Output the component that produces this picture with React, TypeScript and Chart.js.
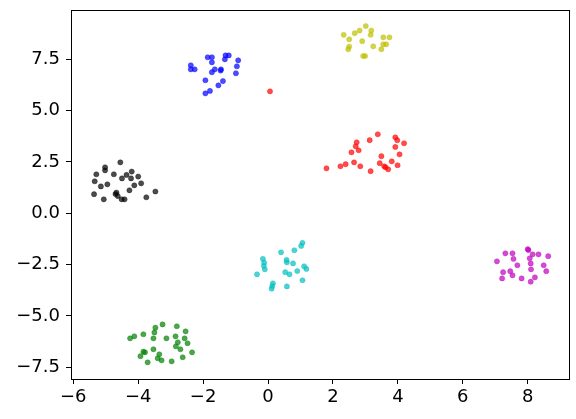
import React, { useEffect, useRef } from "react";
import { Chart, registerables } from "chart.js";
Chart.register(...registerables);

const blueX = [-2.38, -2.38, -2.26, -1.86, -1.73, -1.73, -1.31, -1.21, -1.33, -1.45, -1.46, -1.64, -1.73, -1.93, -1.39, -1.53, -1.79, -1.93, -0.99, -0.96, -0.92];
const blueY = [7.21, 7.01, 7.01, 7.6, 7.6, 7.35, 7.69, 7.69, 7.5, 7.01, 6.95, 7.01, 6.87, 6.48, 6.44, 6.23, 5.96, 5.84, 6.82, 7.16, 7.45];

const yellowX = [2.33, 2.5, 2.67, 2.82, 3.01, 3.18, 3.16, 2.9, 2.5, 2.47, 3.55, 3.74, 3.64, 3.55, 3.24, 3.49, 2.93, 2.99];
const yellowY = [8.69, 8.47, 8.77, 8.9, 9.12, 8.9, 8.69, 8.38, 8.12, 7.99, 8.57, 8.57, 8.23, 8.23, 8.13, 7.99, 7.66, 7.66];

const redX = [0.06, 1.8, 2.23, 2.39, 2.65, 2.84, 3.16, 2.57, 2.7, 2.73, 2.79, 3.13, 3.38, 3.49, 3.44, 3.58, 3.62, 3.7, 3.81, 3.99, 3.92, 3.98, 4.19, 4.05, 3.92];
const redY = [5.94, 2.19, 2.29, 2.39, 2.48, 2.29, 2.05, 2.97, 3.26, 3.46, 3.07, 3.56, 3.85, 2.78, 2.44, 2.29, 2.24, 2.14, 2.53, 2.34, 3.7, 3.56, 3.41, 2.87, 3.23];

const blackX = [-5.29, -5.34, -5.36, -5.15, -5.02, -5.02, -4.95, -4.75, -5.06, -4.7, -4.63, -4.67, -4.55, -4.5, -4.36, -4.2, -4.22, -4.27, -4.12, -4.0, -3.91, -4.51, -4.42, -3.75, -3.47];
const blackY = [1.9, 1.56, 0.93, 1.31, 2.24, 2.09, 1.41, 1.9, 0.68, 0.94, 0.84, 1.01, 2.48, 1.7, 1.87, 2.03, 1.7, 1.12, 1.36, 1.79, 1.46, 0.68, 0.68, 0.78, 1.06];

const cyanX = [-0.34, -0.16, -0.12, -0.13, -0.1, 0.4, 0.57, 0.58, 0.77, 0.81, 1.02, 1.06, 0.53, 0.66, 0.9, 1.11, 1.18, 1.06, 0.15, 0.13, 0.11, 0.58];
const cyanY = [-2.97, -2.22, -2.4, -2.56, -2.73, -1.9, -2.27, -2.39, -2.44, -1.8, -1.59, -1.44, -2.87, -2.97, -2.81, -2.58, -2.71, -3.26, -3.41, -3.54, -3.67, -3.56];

const magentaX = [7.05, 7.31, 7.53, 7.56, 7.24, 7.21, 7.53, 7.46, 7.68, 7.81, 8.0, 8.02, 8.15, 8.06, 8.09, 8.1, 8.33, 8.63, 8.49, 8.57, 8.22, 8.09];
const magentaY = [-2.34, -1.95, -1.95, -2.22, -2.87, -3.17, -3.02, -2.82, -2.53, -3.17, -1.75, -1.79, -2.0, -2.19, -2.44, -2.73, -2.0, -2.09, -2.53, -2.82, -3.12, -3.33];

const greenX = [-4.25, -4.12, -3.84, -3.5, -3.47, -3.25, -2.81, -2.54, -3.53, -3.13, -2.85, -2.57, -2.78, -2.48, -2.84, -2.7, -2.34, -3.53, -3.79, -3.84, -3.93, -3.35, -3.4, -3.28, -2.97, -2.63, -3.71];
const greenY = [-6.09, -5.99, -5.89, -5.8, -5.57, -5.41, -5.5, -5.75, -6.09, -6.09, -5.99, -6.09, -6.28, -6.33, -6.48, -6.62, -6.77, -6.62, -6.77, -6.74, -6.96, -6.87, -7.06, -7.16, -7.21, -7.01, -7.26];

const xTicks = [-6, -4, -2, 0, 2, 4, 6, 8];
const yTicks = [-7.5, -5.0, -2.5, 0.0, 2.5, 5.0, 7.5];

const fmt = (v: number, digits: number) => {
  const s = Math.abs(v).toFixed(digits);
  return v < 0 ? "\u2212" + s : s;
};

const pts = (xs: number[], ys: number[]) => xs.map((x, i) => ({ x, y: ys[i] }));

const frame = {
  id: "frame",
  afterDraw(chart: any) {
    const { ctx, chartArea: a } = chart;
    ctx.save();
    ctx.strokeStyle = "#000";
    ctx.lineWidth = 1;
    ctx.strokeRect(Math.round(a.left) + 0.5, Math.round(a.top) + 0.5, Math.round(a.right - a.left), Math.round(a.bottom - a.top));
    ctx.restore();
  },
};

export default function App() {
  const ref = useRef<HTMLCanvasElement>(null);
  useEffect(() => {
    const series: [number[], number[], string][] = [
      [blueX, blueY, "rgba(0,0,255,0.7)"],
      [yellowX, yellowY, "rgba(191,191,0,0.7)"],
      [redX, redY, "rgba(255,0,0,0.7)"],
      [blackX, blackY, "rgba(0,0,0,0.7)"],
      [cyanX, cyanY, "rgba(0,191,191,0.7)"],
      [magentaX, magentaY, "rgba(191,0,191,0.7)"],
      [greenX, greenY, "rgba(0,128,0,0.7)"],
    ];
    const font = { family: "DejaVu Sans", size: 18 };
    const chart = new Chart(ref.current!, {
      type: "scatter",
      data: {
        datasets: series.map(([xs, ys, c]) => ({
          data: pts(xs, ys),
          backgroundColor: c,
          borderColor: c,
          borderWidth: 0.5,
          pointRadius: 2.6,
        })),
      },
      options: {
        animation: false,
        responsive: false,
        events: [],
        layout: { padding: { top: 10, right: 7, left: 0, bottom: 0 } },
        plugins: { legend: { display: false }, tooltip: { enabled: false } },
        scales: {
          x: {
            type: "linear",
            min: -6.07,
            max: 9.27,
            afterBuildTicks: (s: any) => {
              s.ticks = xTicks.map((v) => ({ value: v }));
            },
            afterFit: (s: any) => {
              s.height = 40;
              s.paddingLeft = 0;
              s.paddingRight = 0;
            },
            ticks: { color: "#000", font, padding: 3, maxRotation: 0, callback: (v: any) => fmt(Number(v), 0) },
            grid: { drawOnChartArea: false, drawTicks: true, tickLength: 5, tickColor: "#000" },
            border: { display: true, color: "#000" },
          },
          y: {
            type: "linear",
            min: -8.07,
            max: 9.9,
            afterBuildTicks: (s: any) => {
              s.ticks = yTicks.map((v) => ({ value: v }));
            },
            afterFit: (s: any) => {
              s.width = 71;
              s.paddingTop = 0;
              s.paddingBottom = 0;
            },
            ticks: { color: "#000", font, padding: 6, callback: (v: any) => fmt(Number(v), 1) },
            grid: { drawOnChartArea: false, drawTicks: true, tickLength: 5, tickColor: "#000" },
            border: { display: true, color: "#000" },
          },
        },
      },
      plugins: [frame],
    } as any);
    return () => chart.destroy();
  }, []);
  return (
    <div style={{ position: "fixed", left: 0, top: 0, width: 576, height: 419, background: "#fff" }}>
      <canvas ref={ref} width={576} height={419} style={{ width: 576, height: 419 }} />
    </div>
  );
}
